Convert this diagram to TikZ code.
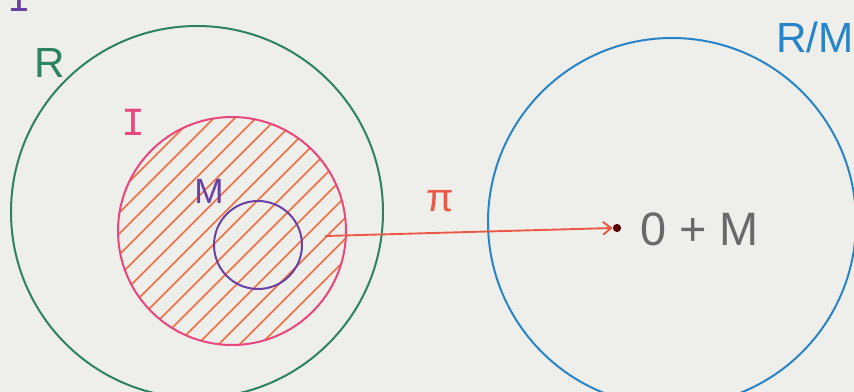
\documentclass[tikz,border=0pt]{standalone}
\usepackage{fontspec}
\setmainfont{Liberation Sans}
\newfontfamily\monof{Liberation Mono}
\usetikzlibrary{arrows.meta}
\definecolor{bg}{RGB}{238,238,234}
\definecolor{rgreen}{RGB}{45,130,95}
\definecolor{ipink}{RGB}{232,70,125}
\definecolor{mpurple}{RGB}{105,65,165}
\definecolor{hatch}{RGB}{242,110,65}
\definecolor{arrowred}{RGB}{236,88,70}
\definecolor{qblue}{RGB}{40,132,200}
\definecolor{penc}{RGB}{105,105,105}
\begin{document}
\begin{tikzpicture}[x=0.03cm,y=-0.03cm,
  ring/.style={line width=1.7pt},
  lbl/.style={inner sep=0pt,font=\fontsize{36}{36}\selectfont},
  dotm/.style={circle,fill=black!65!red,inner sep=0pt,minimum size=7pt}]
\fill[bg] (0,0) rectangle (854,392);
\useasboundingbox (0,0) rectangle (854,392);
% R
\draw[ring,rgreen] (197,212) circle[radius=186];
% hatching of I
\begin{scope}
  \clip (232,231) circle[radius=114];
  \foreach \c in {290,311,...,650}{
    \draw[hatch,line width=1.5pt] (\c-400,400) -- (\c,0);
  }
\end{scope}
\draw[ring,ipink] (232,231) circle[radius=114];
\draw[ring,mpurple] (258,245) circle[radius=44];
% R/M
\draw[ring,qblue] (672,222) circle[radius=184];
% labels
\node[lbl,text=rgreen] (lR) at (50,63) {R};
\node[lbl,text=ipink,font=\monof\fontsize{34}{34}\selectfont] (lI) at (133,122) {I};
\node[lbl,text=mpurple,font=\fontsize{30}{30}\selectfont] (lM) at (209,191) {M};
\node[lbl,text=qblue] (lRM) at (815,37) {R/M};
\node[lbl,text=mpurple,font=\monof\fontsize{34}{34}\selectfont] (ltop) at (19,-2) {I};
\node[lbl,text=arrowred,font=\fontsize{34}{34}\selectfont] (lpi) at (440,201) {π};
% map
\coordinate (pistart) at (325,236);
\node[dotm] (zero) at (617,228) {};
\draw[arrowred,line width=1.6pt,-{Straight Barb[length=7pt,width=11pt]}] (pistart) -- (zero.west);
\node[lbl,text=penc,anchor=west,font=\fontsize{40}{40}\selectfont] (coset) at (640,229) {0 + M};
\end{tikzpicture}
\end{document}
